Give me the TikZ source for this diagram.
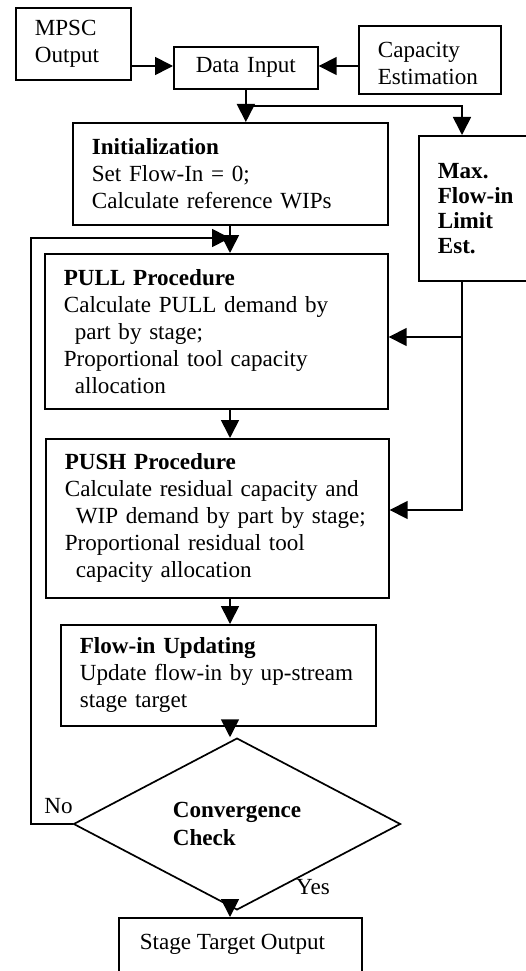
\documentclass[tikz,border=0pt]{standalone}
\usepackage{fontspec}
\setmainfont{Liberation Serif}
\usetikzlibrary{arrows.meta,shapes.geometric,calc}
\begin{document}
\begin{tikzpicture}[x={(1pt,0pt)}, y={(0pt,-1pt)},
  line width=1.7pt,
  font=\fontsize{23.1pt}{27pt}\selectfont,
  box/.style={draw, rectangle, align=left, inner xsep=19pt, inner ysep=0pt, anchor=north west},
  arr/.style={-{Triangle[length=18pt,width=18pt]}},
  lbl/.style={inner sep=0pt, anchor=base},
]
\useasboundingbox (0,0) rectangle (526,971);
\clip (0,0) rectangle (526,971);

% boxes
\node[box, text width=77pt, minimum height=72pt] (mpsc) at (15,7) {MPSC\\Output};
\node[box, align=center, text width=106pt, minimum height=42pt] (din) at (173,46) {Data Input};
\node[box, text width=104pt, minimum height=68pt, text depth=20pt] (cap) at (358,25) {Capacity\\Estimation};
\node[box, text width=277pt, minimum height=102pt] (init) at (72,122)
  {\textbf{Initialization}\\Set Flow-In = 0;\\Calculate reference WIPs};
\node[box, text width=92pt, minimum height=145pt, font=\fontsize{23.1pt}{25pt}\selectfont\bfseries] (max) at (418,135)
  {Max.\\Flow-in\\Limit\\Est.};
\node[box, text width=305pt, minimum height=155pt] (pull) at (44,253)
  {\textbf{PULL Procedure}\\Calculate PULL demand by\\\hspace*{11pt}part by stage;\\Proportional tool capacity\\\hspace*{11pt}allocation};
\node[box, text width=305pt, minimum height=159pt] (push) at (45,438)
  {\textbf{PUSH Procedure}\\\mbox{Calculate residual capacity and}\\\mbox{\hspace*{11pt}WIP demand by part by stage;}\\Proportional residual tool\\\hspace*{11pt}capacity allocation};
\node[box, text width=277pt, minimum height=101pt] (flow) at (60,624)
  {\textbf{Flow-in Updating}\\\mbox{Update flow-in by up-stream}\\stage target};
\node[draw, diamond, minimum width=327pt, minimum height=129pt, inner sep=0pt, align=left,
  font=\fontsize{23.1pt}{28pt}\selectfont\bfseries] (dia) at (237,824) {Convergence\\Check};
\node[box, minimum width=243pt, minimum height=80pt] (stage) at (118,917) {};
\node[inner sep=0pt, anchor=base west] (stagetext) at (139,949) {Stage Target Output};

% branch labels
\node[lbl] (no) at (58.5,813) {No};
\node[lbl] (yes) at (313,894) {Yes};

% helper coordinates for connector routes
\coordinate (inrow) at (0,66);
\coordinate (rail) at (462,106);
\coordinate (pullrow) at (0,337);
\coordinate (pushrow) at (0,510);
\coordinate (spine) at (230,0);
\coordinate (loopx) at (31,0);
\coordinate (fbrow) at (0,238);
\coordinate (fbend) at (spine |- fbrow);
\coordinate (flowout) at ($(flow.south -| spine)+(0,5)$);

% connectors
\draw[arr] (mpsc.east |- inrow) -- (din.west |- inrow);
\draw[arr] (cap.west |- inrow) -- (din.east |- inrow);
\draw[arr] (din.south) -- (din.south |- init.north);
\draw[arr] (din.south |- rail) -- (rail) -- (rail |- max.north);
\draw[arr] (max.south -| rail) -- (rail |- pushrow) -- (push.east |- pushrow);
\draw[arr] (rail |- pullrow) -- (pull.east |- pullrow);
\draw[arr] (init.south -| spine) -- (pull.north -| spine);
\draw[arr] (pull.south -| spine) -- (push.north -| spine);
\draw[arr] (push.south -| spine) -- (flow.north -| spine);
\draw[arr] (flowout) -- (dia.north -| spine);
\draw[arr] (dia.south -| spine) -- (stage.north -| spine);
\draw[arr] (dia.west) -- (dia.west -| loopx) -- (loopx |- fbrow) -- (fbend);
\end{tikzpicture}
\end{document}
